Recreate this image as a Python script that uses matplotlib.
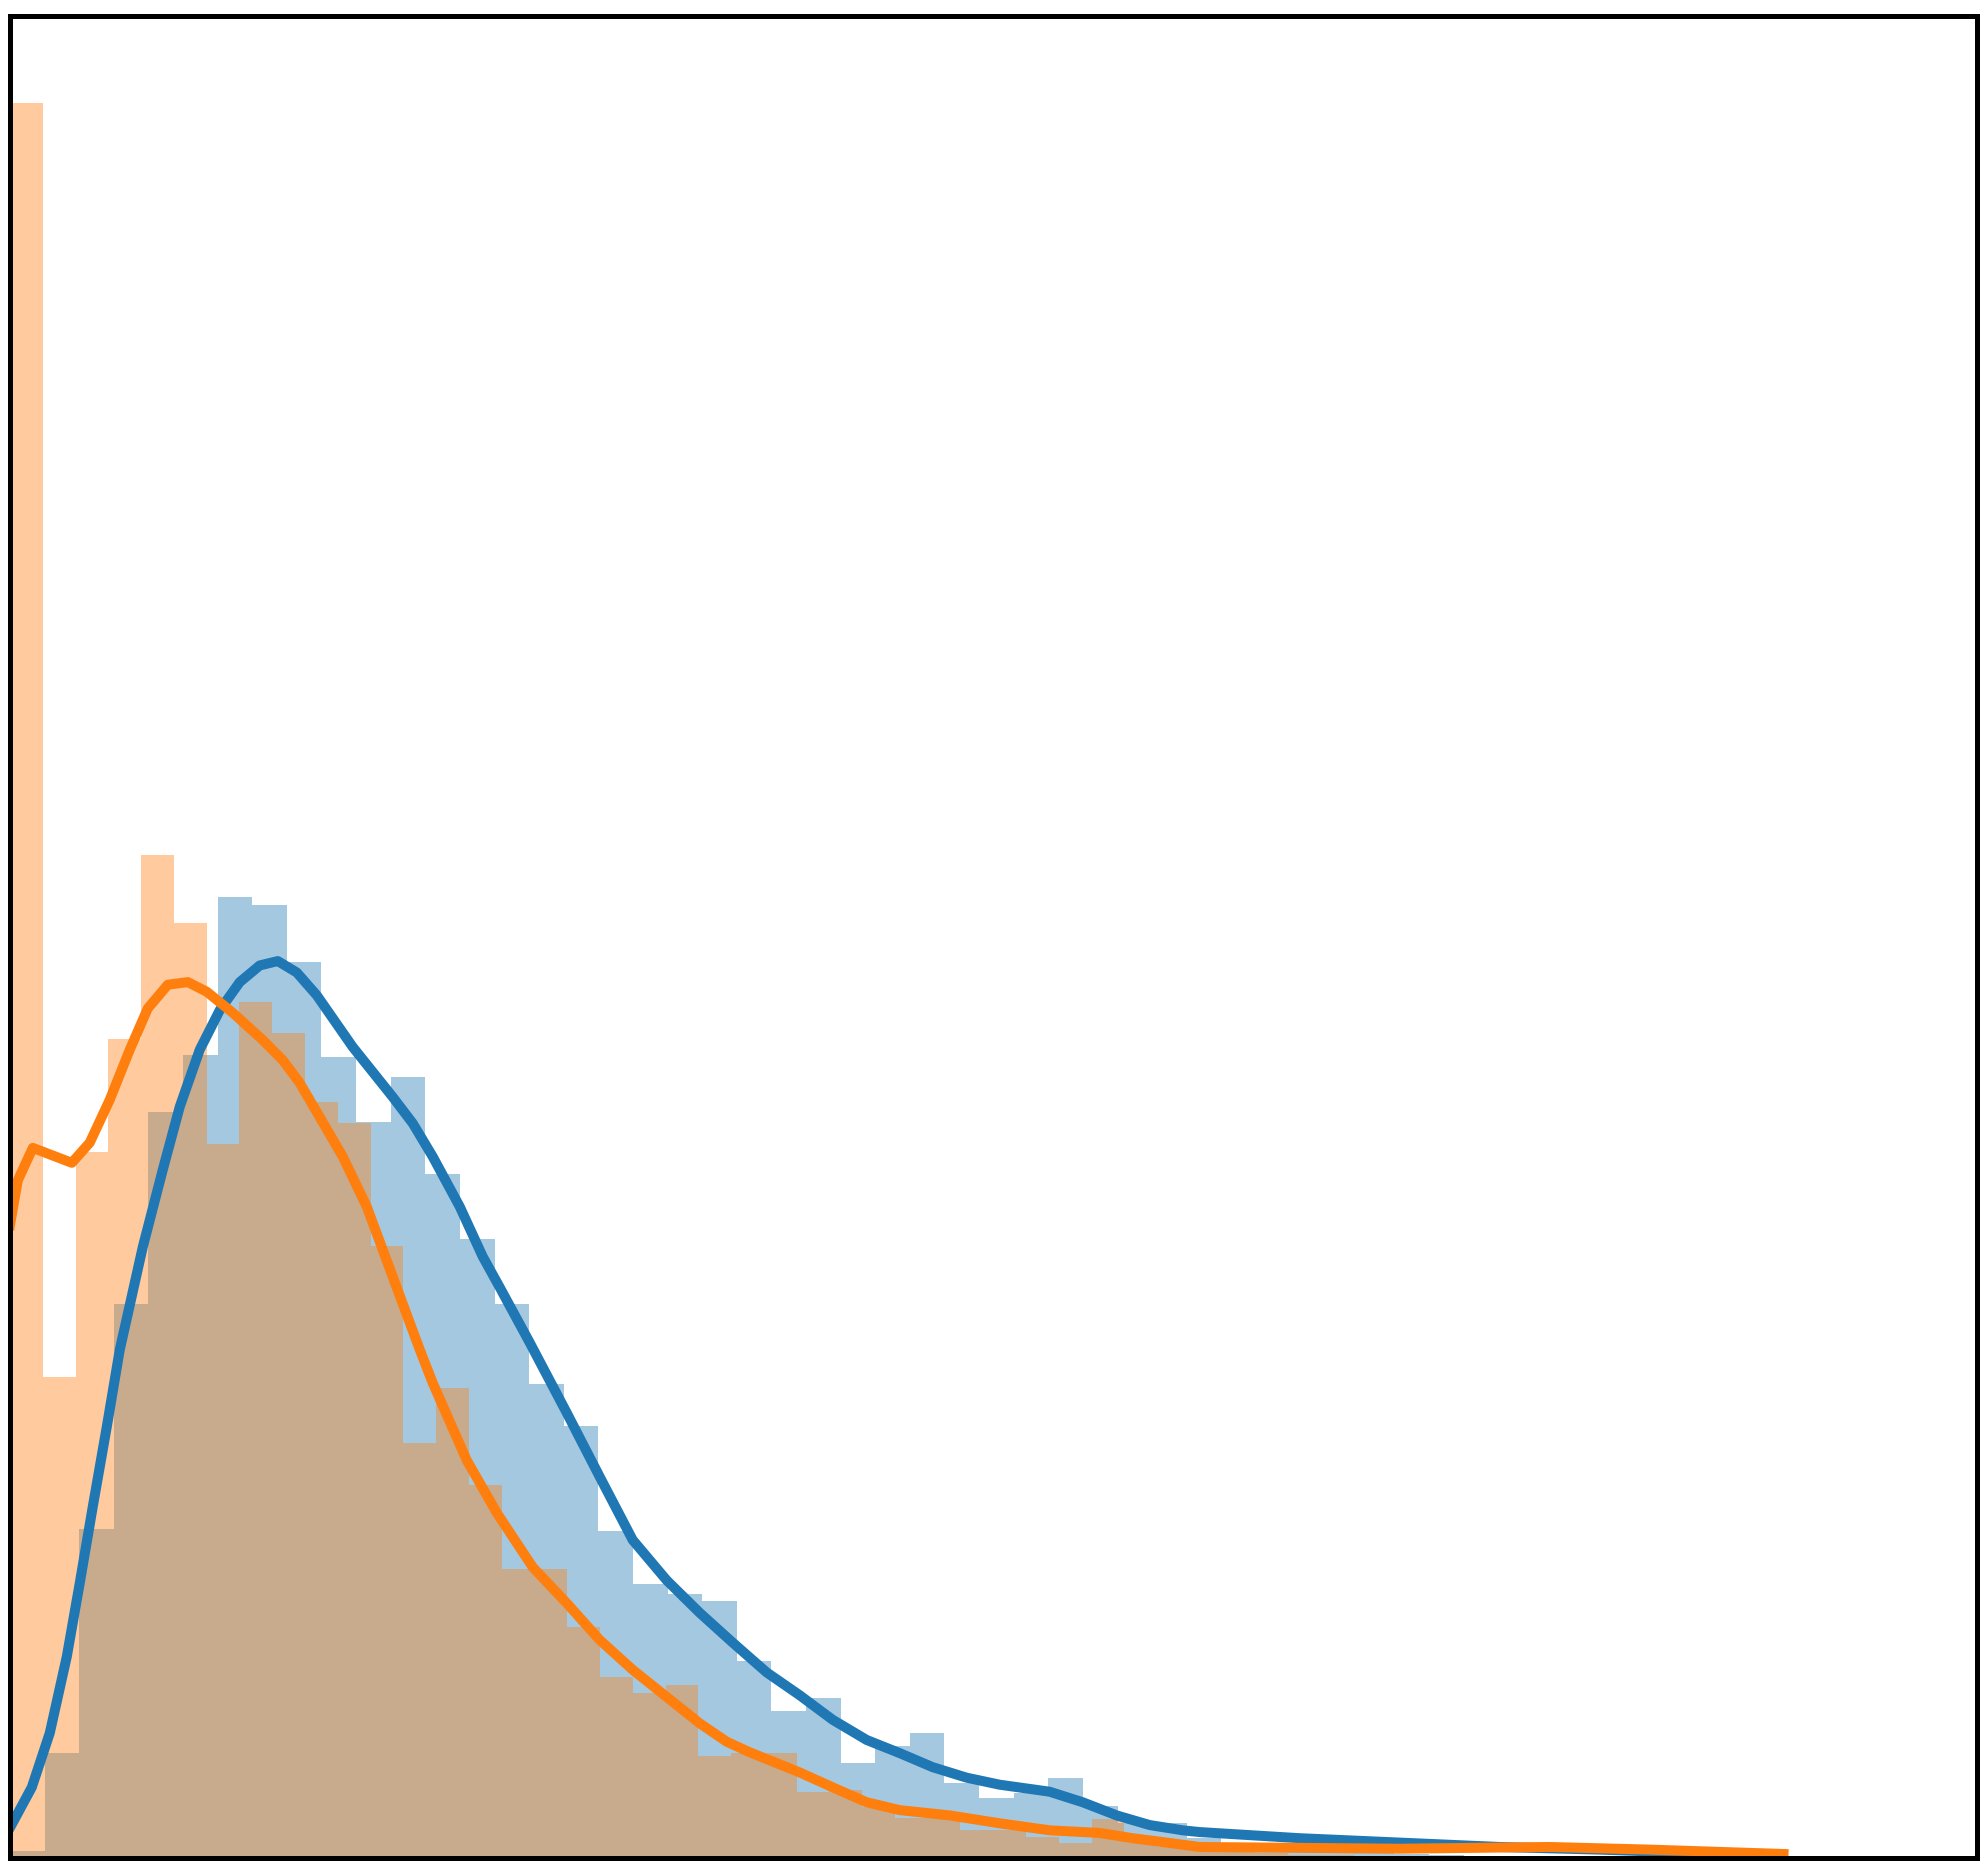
import matplotlib
matplotlib.use("Agg")
import matplotlib.pyplot as plt
import numpy as np

# histogram densities
blue_width = 1.056
blue_heights = [0.0007, 0.0119, 0.0374, 0.0631, 0.0850, 0.0915, 0.1095, 0.1086,
                0.1021, 0.0913, 0.0838, 0.0890, 0.0779, 0.0705, 0.0631, 0.0540,
                0.0492, 0.0372, 0.0312, 0.0300, 0.0292, 0.0224, 0.0167, 0.0182,
                0.0108, 0.0127, 0.0142, 0.0085, 0.0068, 0.0074, 0.0091, 0.0059,
                0.0039, 0.0039, 0.0022, 0.0015, 0.0012, 0.0008, 0.0010, 0.0006,
                0.0004, 0.0003, 0.0002]

orange_width = 1.0
orange_heights = [0.2000, 0.0548, 0.0804, 0.0933, 0.1143, 0.1065, 0.0813, 0.0975,
                  0.0940, 0.0861, 0.0837, 0.0697, 0.0473, 0.0535, 0.0425, 0.0329,
                  0.0329, 0.0263, 0.0206, 0.0188, 0.0197, 0.0116, 0.0119, 0.0119,
                  0.0075, 0.0077, 0.0058, 0.0045, 0.0045, 0.0031, 0.0031, 0.0023,
                  0.0017, 0.0044, 0.0020, 0.0012, 0.0008, 0.0006, 0.0005, 0.0003,
                  0.0003, 0.0002, 0.0002, 0.0001, 0.0002, 0.0001, 0.0001, 0.0, 0.0001]

# kde curves
blue_kde_x = [0.0, 0.665, 1.214, 1.733, 2.129, 2.526, 2.953, 3.350, 4.051, 4.661,
              5.180, 5.790, 6.400, 7.010, 7.620, 8.170, 8.749, 9.359, 10.458, 11.678,
              12.288, 12.898, 13.722, 14.424, 14.942, 15.857, 16.986, 17.993, 18.999,
              20.037, 21.043, 22.050, 23.087, 24.094, 25.101, 26.138, 27.145, 28.151,
              29.189, 30.195, 31.721, 32.728, 33.765, 34.772, 35.779, 36.297, 39.348,
              42.398, 45.449, 48.499, 51.55]
blue_kde_y = [0.0034, 0.0080, 0.0142, 0.0229, 0.0313, 0.0400, 0.0491, 0.0579, 0.0696,
              0.0784, 0.0856, 0.0921, 0.0966, 0.0998, 0.1017, 0.1022, 0.1009, 0.0983,
              0.0924, 0.0867, 0.0837, 0.0799, 0.0742, 0.0685, 0.0650, 0.0587, 0.0507,
              0.0434, 0.0362, 0.0316, 0.0279, 0.0245, 0.0211, 0.0185, 0.0157, 0.0134,
              0.0119, 0.0103, 0.0091, 0.0083, 0.0075, 0.0063, 0.0048, 0.0037, 0.0031,
              0.0029, 0.0022, 0.0017, 0.0012, 0.0009, 0.0005]

orange_kde_x = [0.0, 0.238, 0.696, 1.886, 2.434, 3.045, 3.655, 4.204, 4.814, 5.424,
                6.004, 6.797, 7.712, 8.322, 8.841, 9.451, 10.153, 10.885, 11.678,
                12.502, 12.898, 13.935, 14.851, 15.949, 16.986, 17.993, 18.999, 20.037,
                21.043, 21.867, 22.569, 24.094, 25.101, 26.138, 27.145, 28.670, 30.195,
                31.721, 33.246, 34.253, 35.290, 36.297, 39.348, 42.398, 46.974, 50.024,
                54.112]
orange_kde_y = [0.0721, 0.0772, 0.0809, 0.0792, 0.0815, 0.0864, 0.0921, 0.0968, 0.0995,
                0.0998, 0.0987, 0.0963, 0.0932, 0.0909, 0.0883, 0.0844, 0.0799, 0.0742,
                0.0662, 0.0579, 0.0541, 0.0453, 0.0393, 0.0331, 0.0290, 0.0248, 0.0214,
                0.0183, 0.0153, 0.0132, 0.0120, 0.0097, 0.0080, 0.0063, 0.0054, 0.0048,
                0.0039, 0.0031, 0.0028, 0.0022, 0.0017, 0.0012, 0.0011, 0.0010, 0.0012,
                0.0009, 0.0004]

blue = '#1f77b4'
orange = '#ff7f0e'

fig = plt.figure(figsize=(19.84, 18.72), dpi=100)
ax = fig.add_axes([10 / 1984, 14.5 / 1872, 1966.5 / 1984, 1842 / 1872])

blue_left = np.arange(len(blue_heights)) * blue_width
orange_left = np.arange(len(orange_heights)) * orange_width

ax.bar(blue_left, blue_heights, width=blue_width, align='edge',
       color=blue, alpha=0.4, linewidth=0)
ax.plot(blue_kde_x, blue_kde_y, color=blue, lw=7.2)
ax.bar(orange_left, orange_heights, width=orange_width, align='edge',
       color=orange, alpha=0.4, linewidth=0)
ax.plot(orange_kde_x, orange_kde_y, color=orange, lw=7.2)

ax.set_xlim(0, 60)
ax.set_ylim(0, 0.21)
ax.set_xticks([])
ax.set_yticks([])
for sp in ax.spines.values():
    sp.set_linewidth(3.6)
    sp.set_color('black')

plt.savefig('out.png', dpi=100)
